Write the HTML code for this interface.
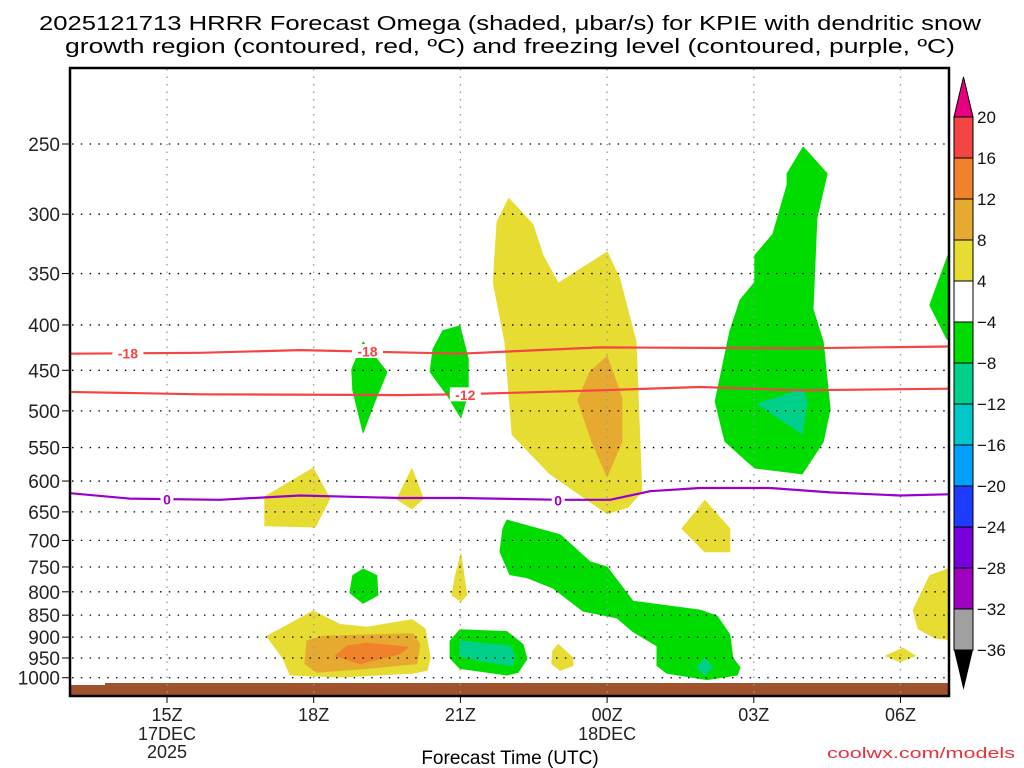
<!DOCTYPE html>
<html><head><meta charset="utf-8"><style>
html,body{margin:0;padding:0;background:#fff;}
svg{display:block;font-family:"Liberation Sans",sans-serif;}
</style></head><body>
<svg id="chart" width="1024" height="768" viewBox="0 0 1024 768">
<text x="510" y="30" text-anchor="middle" font-size="20" textLength="942" lengthAdjust="spacingAndGlyphs">2025121713 HRRR Forecast Omega (shaded, μbar/s) for KPIE with dendritic snow</text>
<text x="510" y="53" text-anchor="middle" font-size="20" textLength="890" lengthAdjust="spacingAndGlyphs">growth region (contoured, red, ºC) and freezing level (contoured, purple, ºC)</text>
<defs><clipPath id="plotclip"><rect x="70" y="68" width="879" height="628"/></clipPath></defs>
<g id="shades" clip-path="url(#plotclip)"></g>
<g id="grid"></g>
<g id="lines" clip-path="url(#plotclip)"></g>
<g id="axes"></g>
<g id="cbar"></g>
<text x="510" y="764" text-anchor="middle" font-size="19">Forecast Time (UTC)</text>
<text x="1015" y="758" text-anchor="end" font-size="15" fill="#e8303a" textLength="188" lengthAdjust="spacingAndGlyphs">coolwx.com/models</text>
</svg>
<script>
// hours relative to 15Z 17DEC; pressure in hPa
const pLevels=[250,300,350,400,450,500,550,600,650,700,750,800,850,900,950,1000];
const tickHours=[0,3,6,9,12,15];
const tickLabels=['15Z','18Z','21Z','00Z','03Z','06Z'];
const cbarLevels=[20,16,12,8,4,-4,-8,-12,-16,-20,-24,-28,-32,-36];
const cbarColors=['#f44444','#f0822c','#e6aa30','#e6dc32','#ffffff','#00dc00','#00d08a','#00c8c8','#00a0ff','#1e3cff','#7800dc','#a000c0','#a0a0a0'];
// shaded regions: [color, points[[hour,hPa]...]]
const yellowUpper=[[6.99,288],[7.48,308],[7.69,334],[8.0,359],[9.0,331],[9.26,355],[9.59,418],[9.71,616],[9.43,642],[9.0,653],[7.83,589],[7.06,532],[6.91,418],[6.67,358],[6.75,306]];
const goldUpper=[[9.0,434],[9.3,483],[9.3,542],[9.0,593],[8.69,542],[8.4,486],[8.65,452]];
const green19Z=[[4.01,418],[4.5,452],[4.25,488],[4.01,529],[3.8,474],[3.78,449]];
const green21Z=[[5.99,401],[6.16,437],[6.16,477],[6.01,509],[5.73,480],[5.38,452],[5.44,426],[5.64,406]];
const yellow18Z=[[2.0,625],[2.99,580],[3.33,628],[3.03,676],[2.0,674]];
const yellow20Z=[[5.01,581],[5.24,628],[5.01,645],[4.7,629]];
const yellow02Z=[[11.0,631],[11.51,679],[11.51,721],[11.0,721],[10.53,679]];
const yellowEdge=[[15.97,754],[15.6,767],[15.26,839],[15.36,881],[15.71,902],[16.5,912],[16.5,750]];
const greenEdge=[[16.5,330],[15.97,334],[15.6,380],[15.95,415],[16.5,420]];
const green03Z=[[13.01,252],[13.5,270],[13.29,303],[13.21,384],[13.42,418],[13.56,498],[13.42,542],[12.99,589],[12.02,580],[11.86,570],[11.41,541],[11.21,488],[11.51,407],[11.72,375],[12.02,358],[12.02,334],[12.39,316],[12.68,278],[12.68,270]];
const teal03Z=[[12.07,491],[12.99,473],[13.09,488],[12.99,531]];
const greenBand=[[6.95,664],[8.04,690],[8.65,740],[9.0,750],[9.53,820],[10.9,839],[11.25,852],[11.51,894],[11.57,950],[11.72,974],[11.66,993],[11.04,1005],[10.22,988],[10.02,969],[10.02,921],[9.53,887],[9.2,856],[8.51,841],[7.89,792],[7.36,771],[7.01,765],[6.81,721],[6.87,679]];
const tealBand=[[11.0,950],[11.15,974],[11.0,993],[10.84,974]];
const green800=[[4.01,754],[4.29,767],[4.31,807],[4.01,824],[3.74,802],[3.8,767]];
const yellowSliver=[[6.01,725],[6.13,807],[6.01,820],[5.83,807],[5.89,771]];
const yellowLow=[[2.04,898],[2.99,841],[3.54,871],[4.09,877],[5.01,860],[5.28,881],[5.38,950],[5.32,981],[5.03,988],[3.54,998],[2.52,993],[2.37,950]];
const goldLow=[[2.86,909],[3.19,898],[5.03,892],[5.17,917],[5.11,964],[4.09,976],[3.07,986],[2.82,964]];
const orangeLow=[[3.44,945],[3.68,921],[4.09,914],[4.93,924],[4.76,940],[3.95,964]];
const greenRing=[[5.99,883],[6.95,887],[7.28,917],[7.36,952],[7.18,986],[6.95,993],[5.99,976],[5.79,950],[5.79,909]];
const tealRing=[[5.99,909],[7.01,921],[7.12,945],[7.06,969],[6.4,957],[5.99,945]];
const yellow23Z=[[8.0,917],[8.3,950],[8.3,969],[8.04,981],[7.87,964],[7.89,933]];
const yellow06Z=[[14.7,945],[15.05,926],[15.3,945],[14.99,959]];
// isotherms [hour, hPa]
const isoM18=[[-2,431],[0.67,430],[2.72,427],[5.99,431],[8.85,424],[12.94,425],[15.97,423],[16.5,423]];
const isoM12=[[-2,476],[0.67,479],[4.76,480],[5.99,479],[8.85,474],[10.9,470],[12.94,474],[15.97,472],[16.5,472]];
const iso0=[[-2,619],[-0.76,628],[1.08,630],[2.72,623],[4.76,627],[5.99,627],[8.04,630],[9.06,630],[9.88,616],[10.9,611],[12.33,611],[13.56,618],[14.99,623],[15.97,621],[16.5,621]];

const NS='http://www.w3.org/2000/svg';
const X=h=>167+48.9*h;
const Y=p=>144+385*Math.log(p/250);
function mk(tag,attrs,parent){const e=document.createElementNS(NS,tag);for(const k in attrs)e.setAttribute(k,attrs[k]);parent.appendChild(e);return e;}
const pts=a=>a.map(d=>X(d[0]).toFixed(1)+','+Y(d[1]).toFixed(1)).join(' ');

const shades=document.getElementById('shades');
const regions=[
 ['yellow-upper-region','#e6dc32',yellowUpper],['gold-upper-region','#e6aa30',goldUpper],
 ['green-19z-region','#00dc00',green19Z],['green-21z-region','#00dc00',green21Z],
 ['yellow-18z-region','#e6dc32',yellow18Z],['yellow-20z-region','#e6dc32',yellow20Z],
 ['yellow-02z-region','#e6dc32',yellow02Z],['yellow-edge-region','#e6dc32',yellowEdge],
 ['green-edge-region','#00dc00',greenEdge],['green-03z-region','#00dc00',green03Z],
 ['teal-03z-region','#00d08a',teal03Z],['green-band-region','#00dc00',greenBand],
 ['teal-band-region','#00d08a',tealBand],['green-800-region','#00dc00',green800],
 ['yellow-sliver-region','#e6dc32',yellowSliver],['yellow-low-region','#e6dc32',yellowLow],
 ['gold-low-region','#e6aa30',goldLow],['orange-low-region','#f0822c',orangeLow],
 ['green-ring-region','#00dc00',greenRing],['teal-ring-region','#00d08a',tealRing],
 ['yellow-23z-region','#e6dc32',yellow23Z],['yellow-06z-region','#e6dc32',yellow06Z]];
regions.forEach(r=>{
 const e=mk('polygon',{points:pts(r[2]),fill:r[1],stroke:r[1],'stroke-width':1,'stroke-linejoin':'round'},shades);
 
 
});
// ground
const g1=mk('path',{d:'M70,685 L105,685 L105,683 L949,683 L949,696 L70,696 Z',fill:'#a0522d'},shades);



// grid
const grid=document.getElementById('grid');
pLevels.forEach(p=>{
 const l=mk('line',{x1:72,x2:948,y1:Y(p),y2:Y(p),stroke:'#000','stroke-width':1.3,'stroke-dasharray':'1.5 7.3'},grid);
 
 
});
tickHours.forEach(h=>{
 const l=mk('line',{x1:X(h),x2:X(h),y1:69,y2:695,stroke:'#999','stroke-width':1.3,'stroke-dasharray':'1.5 6'},grid);
 
 
});

// contour lines
const lines=document.getElementById('lines');
function drawLine(name,data,color){
 const e=mk('polyline',{points:pts(data),fill:'none',stroke:color,'stroke-width':2.2,'stroke-linejoin':'round'},lines);
 
 
}
drawLine('isotherm-minus-18',isoM18,'#f44444');
drawLine('isotherm-minus-12',isoM12,'#f44444');
drawLine('freezing-level-0c',iso0,'#9900cc');
function lab(txt,h,p,color,name){
 const x=X(h),y=Y(p);
 const w=txt.length*9+4;
 const r=mk('rect',{x:x-w/2,y:y-7,width:w,height:14,fill:'#fff'},lines);
 
 
 const t=mk('text',{x:x,y:y+5.5,'text-anchor':'middle','font-size':14,'font-weight':'bold',fill:color},lines);
 t.textContent=txt;
 
 
}
lab('-18',-0.8,430,'#f44444','label-minus-18-a');
lab('-18',4.1,428,'#f44444','label-minus-18-b');
lab('-12',6.1,479,'#f44444','label-minus-12');
lab('0',0,629,'#9900cc','label-0-a');
lab('0',8.0,630,'#9900cc','label-0-b');

// axes
const axes=document.getElementById('axes');
const fr=mk('rect',{x:70,y:68,width:879,height:628,fill:'none',stroke:'#000','stroke-width':2.5},axes);


pLevels.forEach(p=>{
 const tk=mk('line',{x1:62,x2:70,y1:Y(p),y2:Y(p),stroke:'#000','stroke-width':1},axes);
 
 
 const t=mk('text',{x:60,y:Y(p)+7,'text-anchor':'end','font-size':19,fill:'#222'},axes);
 t.textContent=p;
 
 
});
tickHours.forEach((h,i)=>{
 const tk=mk('line',{x1:X(h),x2:X(h),y1:696,y2:703,stroke:'#000','stroke-width':1},axes);
 
 
 const t=mk('text',{x:X(h),y:721,'text-anchor':'middle','font-size':18,fill:'#222'},axes);
 t.textContent=tickLabels[i];
 
 
});
[['17DEC',0,740],['2025',0,758],['18DEC',9,740]].forEach(d=>{
 const t=mk('text',{x:X(d[1]),y:d[2],'text-anchor':'middle','font-size':18,fill:'#222'},axes);
 t.textContent=d[0];
 
 
});

// colorbar
const cb=document.getElementById('cbar');
const cx=954,cw=19,cy0=117,step=(650-117)/13;
const tu=mk('polygon',{points:`${cx},${cy0} ${cx+cw},${cy0} ${cx+cw/2},77`,fill:'#e8007f',stroke:'#000','stroke-width':1},cb);


cbarColors.forEach((c,i)=>{
 const r=mk('rect',{x:cx,y:cy0+i*step,width:cw,height:step,fill:c,stroke:'#000','stroke-width':1},cb);
 
 
});
const td=mk('polygon',{points:`${cx},650 ${cx+cw},650 ${cx+cw/2},690`,fill:'#000'},cb);


cbarLevels.forEach((v,i)=>{
 const t=mk('text',{x:977,y:cy0+i*step+6,'font-size':17,fill:'#111'},cb);
 t.textContent=v<0?'−'+Math.abs(v):String(v);
 
 
});
</script>
</body></html>
